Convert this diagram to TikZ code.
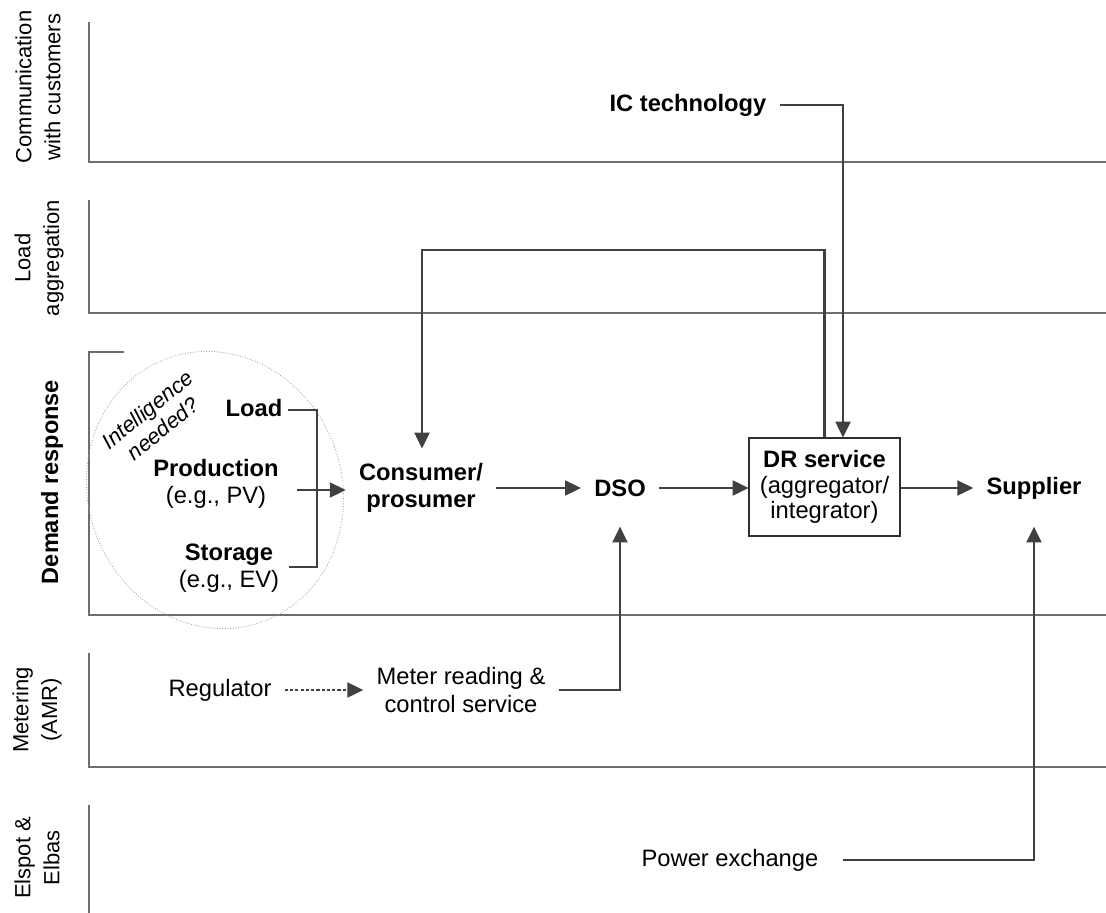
\documentclass[tikz,border=0pt]{standalone}
\usepackage{fontspec}
\setmainfont{Liberation Sans}
\usetikzlibrary{arrows.meta,calc}
\definecolor{arrcol}{HTML}{404040}
\definecolor{lanecol}{HTML}{6E6E6E}
\definecolor{boxcol}{HTML}{303030}
\begin{document}
\begin{tikzpicture}[x=0.02cm,y=-0.02cm,
  lane/.style={draw=lanecol,line width=0.8pt},
  arr/.style={draw=arrcol,line width=1.25pt,-{Triangle[length=9pt,width=8.5pt]}},
  dasharr/.style={draw=arrcol,line width=1.1pt,dash pattern=on 1.8pt off 1.2pt,-{Triangle[length=9pt,width=8.5pt]}},
  plain/.style={draw=arrcol,line width=1.25pt},
  txt/.style={font=\fontsize{13.5}{15.5}\selectfont, align=center, inner xsep=7.4pt, inner ysep=8.5pt},
  boldtxt/.style={txt, font=\fontsize{13.5}{15}\selectfont\bfseries},
  lanelab/.style={font=\fontsize{12.5}{16.4}\selectfont, align=center, rotate=90, inner sep=0pt},
  ]
\useasboundingbox (0,0) rectangle (1106,913);

% lanes
\draw[lane] (89,22) |- (1106,162);
\draw[lane] (89,200) |- (1106,313);
\draw[lane] (124,352) -- (89,352) |- (1106,615);
\draw[lane] (89,653) |- (1106,767);
\draw[lane] (89,805) -- (89,913);

% lane labels
\node[lanelab] (l1) at (38,87) {Communication\\with customers};
\node[lanelab] (l2) at (39,258) {Load\\aggregation};
\node[lanelab, font=\fontsize{13.4}{16}\selectfont\bfseries] (l3) at (52,482) {Demand response};
\node[lanelab] (l4) at (37,710) {Metering\\(AMR)};
\node[lanelab] (l5) at (37,858) {Elspot \&\\Elbas};

% intelligence ellipse
\draw[gray!70, line width=0.5pt, densely dotted, rotate around={20:(215,490)}] (215,490) ellipse [x radius=127, y radius=140];
\node[rotate=39, font=\fontsize{12.4}{14}\selectfont\itshape, align=center, inner sep=0pt] (intel) at (155,419) {Intelligence\\needed?};

% nodes
\node[boldtxt] (ic) at (688,105) {IC technology};
\node[boldtxt, anchor=east, inner xsep=3pt] (load) at (288,408) {Load};
\node[txt] (prod) at (216,484) {\textbf{Production}\\(e.g., PV)};
\node[txt, inner xsep=5.5pt] (stor) at (229,568) {\textbf{Storage}\\(e.g., EV)};
\node[boldtxt] (cons) at (421,488) {Consumer/\\prosumer};
\node[boldtxt] (dso) at (620,488) {DSO};
\node[draw=boxcol, line width=0.6pt, minimum width=3.02cm, minimum height=1.96cm, font=\fontsize{13.5}{14.7}\selectfont, align=center, inner sep=2pt] (dr) at (824.5,487) {\textbf{DR service}\\(aggregator/\\integrator)};
\node[boldtxt] (sup) at (1034,488) {Supplier};
\node[txt] (reg) at (220,690) {Regulator};
\node[txt, font=\fontsize{13.5}{16}\selectfont] (meter) at (461,690) {Meter reading \&\\control service};
\node[txt] (pex) at (730,860) {Power exchange};

% helper coordinates
\coordinate (icturn) at (843,105);
\coordinate (loopR) at (824.5,250);
\coordinate (loopL) at (422,250);
\coordinate (bt) at (317,410);
\coordinate (bb) at (317,567);
\coordinate (pa) at (297,490);

% connectors
\draw[arr] (ic.east) -- (icturn) -- (dr.north -| icturn);
\draw[arr] (dr.north) -- (loopR) -- (loopL) -- (cons.north -| loopL);
\draw[plain] (load.east |- bt) -- (bt) -- (bb) -- (stor.east |- bb);
\draw[arr] (pa) -- (cons.west |- pa);
\draw[arr] (cons.east |- dso) -- (dso.west);
\draw[arr] (dso.east) -- (dr.west |- dso);
\draw[arr] (dr.east |- sup) -- (sup.west);
\draw[dasharr] (reg.east) -- (meter.west |- reg);
\draw[arr, shorten >=8.5pt] (meter.east) -| (dso.south);
\draw[arr, shorten <=6.5pt, shorten >=7pt] (pex.east) -| (sup.south);
\end{tikzpicture}
\end{document}
